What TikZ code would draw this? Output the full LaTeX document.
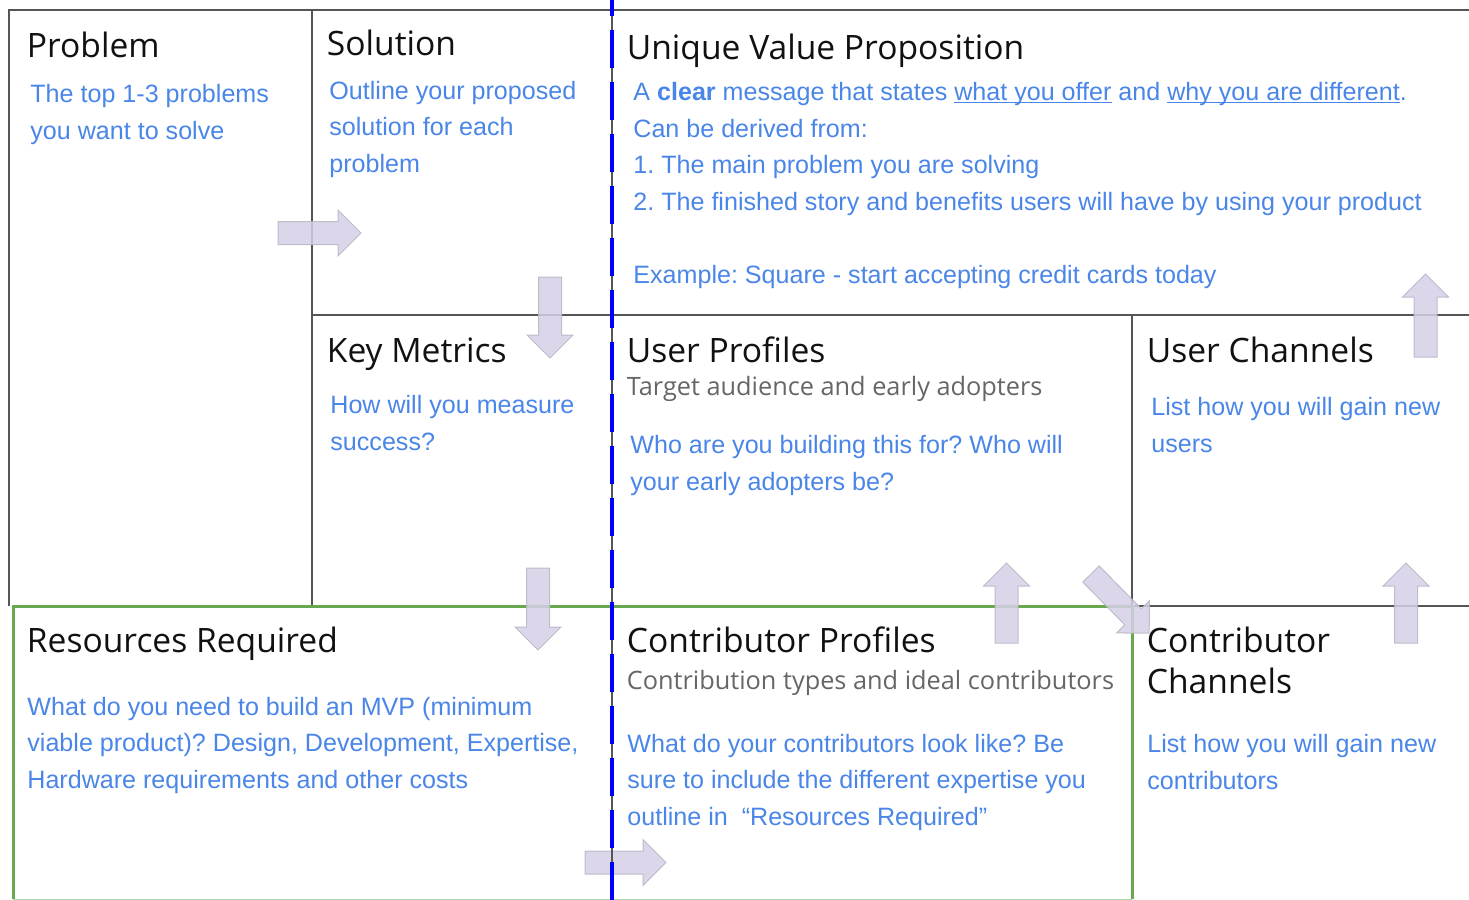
\documentclass[tikz,border=0pt]{standalone}
\usepackage{fontspec}
\setmainfont{Liberation Sans}
\newfontfamily\headfont{Open Sans}
\frenchspacing
\definecolor{bluec}{HTML}{4A86E8}
\definecolor{grayc}{HTML}{666666}
\definecolor{headc}{HTML}{111111}
\definecolor{linec}{HTML}{555555}
\definecolor{greenc}{HTML}{6AA84F}
\definecolor{dashc}{HTML}{0000FF}
\definecolor{arrowfill}{HTML}{D6CFE7}
\definecolor{arrowedge}{HTML}{B8B4C4}
\newcommand\myul[1]{\setbox0\hbox{#1}\rlap{\rule[-1.3pt]{\wd0}{0.55pt}}\box0\relax}
\newcommand\blockarrow[4]{%
  \begin{scope}[shift={(#1,#2)},rotate=#3]
    \filldraw[blockarrowsty] (0,-11.5) -- (#4-23,-11.5) -- (#4-23,-23) -- (#4,0) -- (#4-23,23) -- (#4-23,11.5) -- (0,11.5) -- cycle;
  \end{scope}}
\begin{document}
\begin{tikzpicture}[x=0.5pt,y=-0.5pt,
  head/.style={anchor=base west, inner sep=0pt, font=\headfont\fontsize{16.8}{20.5}\selectfont, text=headc, align=left},
  body/.style={anchor=base west, inner sep=0pt, font=\frenchspacing\fontsize{12.55}{18.25}\selectfont, text=bluec, align=left},
  subt/.style={anchor=base west, inner sep=0pt, font=\headfont\fontsize{12.65}{18}\selectfont, text=grayc},
  gridline/.style={draw=linec, line width=1pt},
  greenline/.style={draw=greenc, line width=1.5pt},
  blockarrowsty/.style={fill=arrowfill, draw=arrowedge, line width=0.5pt, opacity=0.85}]
\useasboundingbox (0,0) rectangle (1469,900);
\fill[white] (0,0) rectangle (1469,900);
% grid
\draw[gridline] (1469,10) -- (9,10) -- (9,606);
\draw[gridline] (312,10) -- (312,606);
\draw[gridline] (312,315) -- (1469,315);
\draw[gridline] (1132,315) -- (1132,606) -- (1469,606);
\draw[greenline] (13,899) -- (13,606) -- (1132,606) -- (1132,899);
\draw[greenline, line width=0.8pt, draw opacity=0.5] (13,899.5) -- (1132,899.5);
% arrows
\blockarrow{278}{233}{0}{83}
\blockarrow{550}{277}{-90}{81}
\blockarrow{538}{568}{-90}{82}
\blockarrow{1006.5}{643}{90}{80}
\blockarrow{1091}{574}{-45.5}{83}
\blockarrow{1406}{643}{90}{80}
\blockarrow{1425.5}{357}{90}{83}
\blockarrow{585}{862.5}{0}{81}
% blue dashed divider
\draw[draw=linec, line width=0.7pt] (612,0) -- (612,900);
\draw[draw=dashc, line width=2pt, dash pattern=on 19pt off 7pt, dash phase=11pt] (612,0) -- (612,900);
% texts (multi-line nodes are placed at the baseline of their last line)
\node[head] (hprob) at (26.5,57) {Problem};
\node[body] (tprob) at (30,139) {The top 1-3 problems\\you want to solve};
\node[head] (hsol) at (326.5,55) {Solution};
\node[body] (tsol) at (329,172) {Outline your proposed\\solution for each\\problem};
\node[head] (huvp) at (626.5,59) {Unique Value Proposition};
\node[body] (tuvp) at (633,283) {A \textbf{clear} message that states \myul{what you offer} and \myul{why you are different}.\\Can be derived from:\\1. The main problem you are solving\\2. The finished story and benefits users will have by using your product\\[18.25pt]Example: Square - start accepting credit cards today};
\node[head] (hkey) at (326.5,362) {Key Metrics};
\node[body] (tkey) at (330,450) {How will you measure\\success?};
\node[head] (husr) at (626.5,362) {User Profiles};
\node[subt] (susr) at (626.5,395) {Target audience and early adopters};
\node[body] (tusr) at (630,490) {Who are you building this for? Who will\\your early adopters be?};
\node[head] (hchan) at (1146.5,362) {User Channels};
\node[body] (tchan) at (1151,452) {List how you will gain new\\users};
\node[head] (hres) at (26.5,652) {Resources Required};
\node[body] (tres) at (27,788) {What do you need to build an MVP (minimum\\viable product)? Design, Development, Expertise,\\Hardware requirements and other costs};
\node[head] (hcon) at (626.5,652) {Contributor Profiles};
\node[subt] (scon) at (626.5,689) {Contribution types and ideal contributors};
\node[body] (tcon) at (627,825) {What do your contributors look like? Be\\sure to include the different expertise you\\outline in\ \ “Resources Required”};
\node[head] (hcch) at (1146.5,693) {Contributor\\Channels};
\node[body] (tcch) at (1147,789) {List how you will gain new\\contributors};
\end{tikzpicture}
\end{document}
